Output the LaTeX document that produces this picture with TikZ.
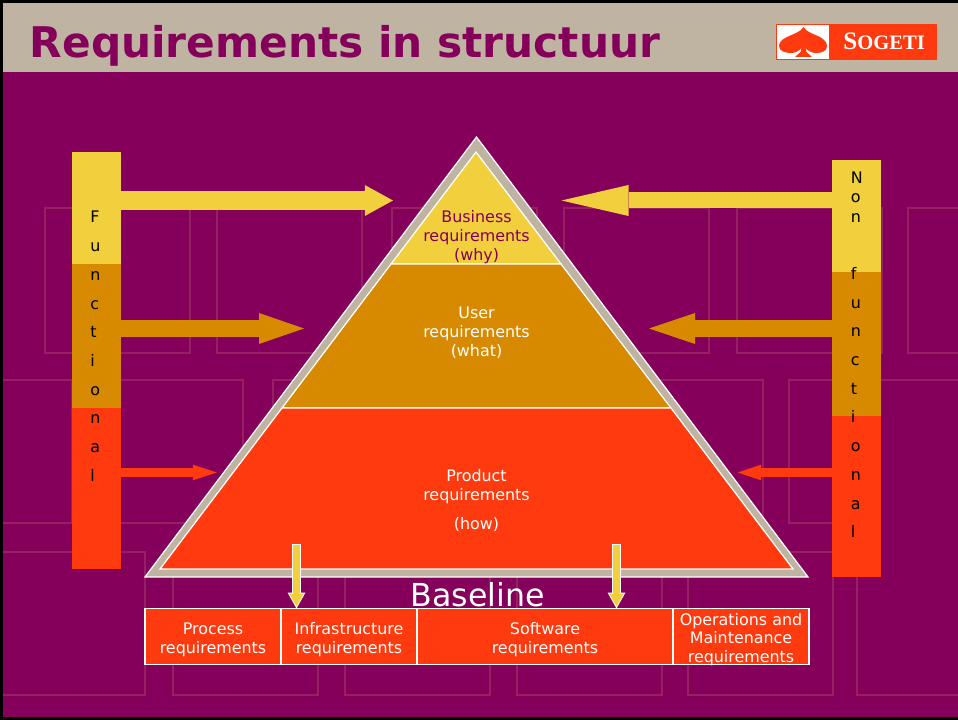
\documentclass[tikz,border=0pt]{standalone}
\usepackage{fontspec}
\setmainfont{DejaVu Sans}
\newfontfamily\logofont{Liberation Serif}[BoldFont={Liberation Serif Bold}]
\usetikzlibrary{arrows.meta}
\definecolor{slidePurple}{HTML}{85005A}
\definecolor{patternPurple}{HTML}{942263}
\definecolor{bandTan}{HTML}{BFB3A2}
\definecolor{reqYellow}{HTML}{F2CF3C}
\definecolor{reqOrange}{HTML}{D78A00}
\definecolor{reqRed}{HTML}{FF3A0E}
\newcommand{\lowstrut}{\rule{0pt}{10.4pt}}
\tikzset{
  barbox/.style={minimum width=9.8mm,inner sep=0pt,outer sep=0pt},
  reqbox/.style={draw=white,line width=0.3mm,fill=reqRed,text=white,align=center,
    minimum height=11.2mm,inner sep=0pt,outer sep=0pt,font=\fontsize{9.05}{10.8}\selectfont},
  layertext/.style={align=center,inner sep=0pt,text=white,font=\fontsize{9.05}{10.8}\selectfont},
  lettertext/.style={align=left,inner sep=0pt,anchor=north west,text=black},
  layer/.style={draw=white,line width=0.25mm,line join=miter},
  pattern/.style={draw=patternPurple,line width=0.3mm},
  fatarrow/.style n args={4}{draw=#1,line width=#2,
    -{Triangle[length=#3,width=#4,line width=0pt]}},
  downarrow/.style={draw=reqYellow,line width=1.4mm,shorten >=0.4mm,shorten <=0.2mm,
    -{Triangle[length=2.6mm,width=2.9mm,line width=0pt]},
    preaction={draw=white,line width=1.86mm,shorten >=0pt,shorten <=0pt,
    -{Triangle[length=3.2mm,width=3.6mm,line width=0pt]}}}
}
\begin{document}
\begin{tikzpicture}[x=0.2mm,y=-0.2mm]
  \useasboundingbox (0,0) rectangle (958,720);
  \clip (0,0) rectangle (958,720);
  \fill[slidePurple] (0,0) rectangle (958,720);
  % faint pattern
  \foreach \px in {45,217,392,564,737,908}
    \draw[pattern] (\px,208) rectangle +(145,145);
  \foreach \px in {-73,98,273,446,618}
    \draw[pattern] (\px,380) rectangle +(145,143);
  \draw[pattern] (958,380) -- (789,380) -- (789,523) -- (840,523);
  \foreach \px in {0,173,345,517,688}
    \draw[pattern] (\px,552) rectangle +(145,143);
  \draw[pattern] (857,560) -- (857,695) -- (958,695);
  % title band
  \fill[bandTan] (0,0) rectangle (958,72);
  \draw[black,line width=0.6mm] (0,1.5) -- (958,1.5) (1.5,0) -- (1.5,720) (0,718.5) -- (958,718.5);
  \node[anchor=base west,inner sep=0pt,text=slidePurple,font=\fontsize{24.05}{28}\selectfont\bfseries]
    (title) at (29.5,58) {Requirements in structuur};
  % logo
  \node[fill=reqRed,minimum width=32.2mm,minimum height=7.2mm,inner sep=0pt] (logo) at (856.5,42) {};
  \fill[white] (777,25) rectangle (829,59);
  \fill[reqRed] (803.5,27) .. controls (801,32) and (793,34) .. (787,37)
    .. controls (781,40) and (779,43) .. (779,46)
    .. controls (779,51) and (785,53) .. (791,53)
    .. controls (795,53) and (799,51) .. (801.5,48)
    -- (800.5,52) -- (795,57) -- (812,57) -- (806.5,52) -- (805.5,48)
    .. controls (808,51) and (812,53) .. (816,53)
    .. controls (822,53) and (827,51) .. (827,46)
    .. controls (827,43) and (825,40) .. (820,37)
    .. controls (814,34) and (806,32) .. (803.5,27) -- cycle;
  \node[anchor=base west,inner sep=0pt,text=white,font=\logofont\bfseries] (sogeti) at (843,50)
    {\fontsize{14.3}{16}\selectfont S\fontsize{11.7}{16}\selectfont OGETI};
  % pyramid
  \fill[bandTan,draw=white,line width=0.25mm] (476.5,137) -- (808,577) -- (145,577) -- cycle;
  \draw[layer,fill=reqYellow] (476,152) -- (561,264) -- (391,264) -- cycle;
  \draw[layer,fill=reqOrange] (391,264) -- (561,264) -- (671,408) -- (282,408) -- cycle;
  \draw[layer,fill=reqRed] (282,408) -- (671,408) -- (793,569) -- (160,569) -- cycle;
  \node[layertext,text=slidePurple] (business) at (476.5,237) {Business\\requirements\\(why)};
  \node[layertext] (user) at (476.5,333) {User\\requirements\\(what)};
  \node[layertext] (product) at (476.5,500.5) {Product\\requirements\\[5.7pt](how)};
  % side bars
  \node[barbox,fill=reqYellow,minimum height=22.4mm] (funcA) at (96.5,208) {};
  \node[barbox,fill=reqOrange,minimum height=28.8mm] (funcB) at (96.5,336) {};
  \node[barbox,fill=reqRed,minimum height=32.2mm] (funcC) at (96.5,488.5) {};
  \node[barbox,fill=reqYellow,minimum height=22.4mm] (nonA) at (856.5,216) {};
  \node[barbox,fill=reqOrange,minimum height=28.8mm] (nonB) at (856.5,344) {};
  \node[barbox,fill=reqRed,minimum height=32.2mm] (nonC) at (856.5,496.5) {};
  \node[lettertext,font=\fontsize{9.05}{16.33}\selectfont] (funcText) at (90,211)
    {F\\u\\n\\c\\t\\i\\o\\n\\a\\l};
  \node[lettertext,font=\fontsize{9.05}{11}\selectfont] (nonTextA) at (850.5,171.5) {N\\o\\n};
  \node[lettertext,font=\fontsize{9.05}{16.33}\selectfont] (nonTextB) at (850.5,267)
    {f\\u\\n\\c\\t\\i\\o\\n\\a\\l};
  % arrows to the pyramid
  \coordinate (funcTipA) at (393,200.5);
  \coordinate (funcTipB) at (304,328.5);
  \coordinate (funcTipC) at (217,472.5);
  \coordinate (nonTipA) at (561.5,200.5);
  \coordinate (nonTipB) at (649,328.5);
  \coordinate (nonTipC) at (737.5,472.5);
  \draw[fatarrow={reqYellow}{3.8mm}{5.64mm}{6.2mm}] (funcA.east |- funcTipA) -- (funcTipA);
  \draw[fatarrow={reqOrange}{3.3mm}{9mm}{6.2mm}] (funcB.east |- funcTipB) -- (funcTipB);
  \draw[fatarrow={reqRed}{1.68mm}{4.8mm}{3.1mm}] (funcC.east |- funcTipC) -- (funcTipC);
  \draw[fatarrow={reqYellow}{3.2mm}{13.4mm}{6.2mm}] (nonA.west |- nonTipA) -- (nonTipA);
  \draw[fatarrow={reqOrange}{3.3mm}{9.2mm}{6.2mm}] (nonB.west |- nonTipB) -- (nonTipB);
  \draw[fatarrow={reqRed}{1.68mm}{4.7mm}{3.1mm}] (nonC.west |- nonTipC) -- (nonTipC);
  % baseline boxes
  \node[anchor=base,inner sep=0pt,text=white,font=\fontsize{18}{20}\selectfont] (baseline) at (477.5,606) {Baseline};
  \node[reqbox,minimum width=27.2mm] (process) at (213,636.5) {\lowstrut Process\\requirements};
  \node[reqbox,minimum width=27.2mm] (infra) at (349,636.5) {\lowstrut Infrastructure\\requirements};
  \node[reqbox,minimum width=51.2mm] (software) at (545,636.5) {\lowstrut Software\\requirements};
  \node[reqbox,minimum width=27.2mm,inner ysep=-0.6mm] (operations) at (741,636.5) {\lowstrut Operations and~\\Maintenance\\requirements};
  \coordinate (infraStart) at (296.5,544);
  \coordinate (softStart) at (616.5,544);
  \draw[downarrow] (infraStart) -- (infraStart |- infra.north);
  \draw[downarrow] (softStart) -- (softStart |- software.north);
\end{tikzpicture}
\end{document}
